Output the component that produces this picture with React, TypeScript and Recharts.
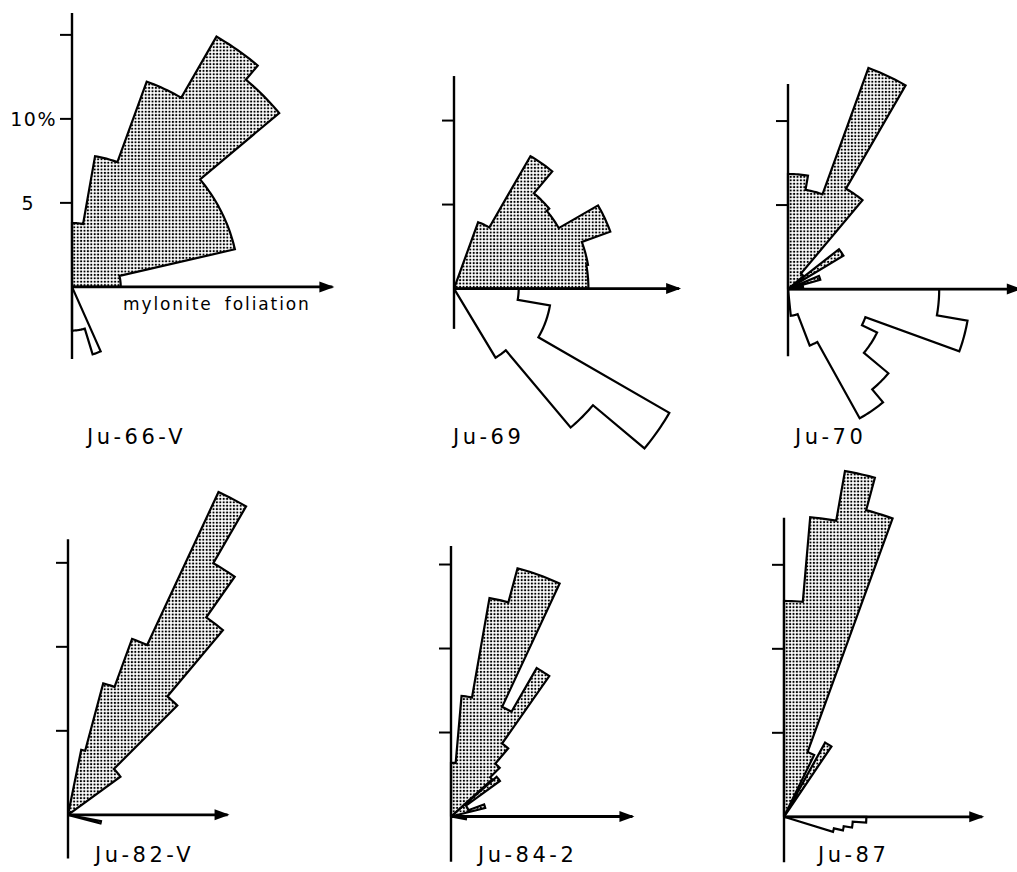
import { ScatterChart, Scatter, XAxis, YAxis } from "recharts"

type Bin = { from: number; to: number; pct: number }
type Pt = { x: number; y: number; tip?: boolean }

const K = 16.8 // px per 1 %
const FONT = "'DejaVu Sans', Verdana, sans-serif"

// rose bins: angle from the foliation (deg, counter-clockwise), frequency in %
const ju66vBins: Bin[] = [
  { from: 0, to: 13, pct: 2.9 },
  { from: 13, to: 40, pct: 9.95 },
  { from: 40, to: 50, pct: 16.1 },
  { from: 50, to: 60, pct: 17.2 },
  { from: 60, to: 70, pct: 13.0 },
  { from: 70, to: 80, pct: 7.9 },
  { from: 80, to: 90, pct: 3.8 },
  { from: -90, to: -73, pct: 2.6 },
  { from: -73, to: -66, pct: 4.2 },
]

const ju69Bins: Bin[] = [
  { from: 0, to: 10, pct: 8.0 },
  { from: 10, to: 20, pct: 8.1 },
  { from: 20, to: 30, pct: 9.9 },
  { from: 30, to: 40, pct: 7.2 },
  { from: 40, to: 50, pct: 7.4 },
  { from: 50, to: 60, pct: 9.1 },
  { from: 60, to: 70, pct: 4.2 },
  { from: -10, to: 0, pct: 3.85 },
  { from: -30, to: -10, pct: 5.8 },
  { from: -40, to: -30, pct: 14.8 },
  { from: -50, to: -40, pct: 10.8 },
  { from: -59, to: -50, pct: 4.8 },
]

const ju70Bins: Bin[] = [
  { from: 5, to: 14, pct: 0.9 },
  { from: 16, to: 23, pct: 2.0 },
  { from: 31, to: 38, pct: 3.85 },
  { from: 40, to: 50, pct: 1.2 },
  { from: 50, to: 60, pct: 6.9 },
  { from: 60, to: 70, pct: 14.0 },
  { from: 70, to: 80, pct: 6.0 },
  { from: 80, to: 90, pct: 6.85 },
  { from: -10, to: 0, pct: 9.0 },
  { from: -20, to: -10, pct: 10.85 },
  { from: -26, to: -20, pct: 4.9 },
  { from: -40, to: -26, pct: 5.9 },
  { from: -50, to: -40, pct: 7.8 },
  { from: -61, to: -50, pct: 8.8 },
  { from: -69, to: -61, pct: 3.6 },
  { from: -84, to: -69, pct: 1.6 },
]

const ju82vBins: Bin[] = [
  { from: 36, to: 45, pct: 3.86 },
  { from: 45, to: 50, pct: 9.2 },
  { from: 50, to: 55, pct: 14.35 },
  { from: 55, to: 60, pct: 17.3 },
  { from: 60, to: 65, pct: 21.2 },
  { from: 65, to: 70, pct: 11.15 },
  { from: 70, to: 75, pct: 8.1 },
  { from: 75, to: 78.5, pct: 3.95 },
  { from: -15, to: -11, pct: 2.0 },
]

const ju842Bins: Bin[] = [
  { from: 14, to: 20, pct: 2.1 },
  { from: 20, to: 36, pct: 1.1 },
  { from: 36, to: 41, pct: 3.6 },
  { from: 42, to: 45, pct: 3.3 },
  { from: 45, to: 50, pct: 4.1 },
  { from: 50, to: 55, pct: 5.3 },
  { from: 55, to: 60, pct: 10.2 },
  { from: 60, to: 65, pct: 7.2 },
  { from: 65, to: 75, pct: 15.3 },
  { from: 75, to: 80, pct: 13.2 },
  { from: 80, to: 85, pct: 7.2 },
  { from: 85, to: 90, pct: 3.2 },
  { from: -10, to: -4, pct: 0.9 },
]

const ju87Bins: Bin[] = [
  { from: 56, to: 61, pct: 5.05 },
  { from: 64, to: 70, pct: 4.1 },
  { from: 70, to: 75, pct: 18.9 },
  { from: 75, to: 80, pct: 20.9 },
  { from: 80, to: 85, pct: 17.9 },
  { from: 85, to: 90, pct: 12.85 },
  { from: -4, to: 0, pct: 4.9 },
  { from: -9, to: -4, pct: 4.1 },
  { from: -13, to: -9, pct: 3.6 },
  { from: -17, to: -13, pct: 3.05 },
]

const ticksTall = [5, 10, 15]
const ticksShort = [5, 10]

type Panel = {
  id: string
  name: string
  bins: Bin[]
  ticks: number[]
  ox: number
  oy: number
  yTop: number
  yBottom: number
  xTip: number
  labelX: number
  labelY: number
  showTickLabels?: boolean
}

const panels: Panel[] = [
  { id: "a", name: "Ju-66-V", bins: ju66vBins, ticks: ticksTall, ox: 72, oy: 287, yTop: 16.3, yBottom: -4.3, xTip: 15.5, labelX: 87, labelY: 427, showTickLabels: true },
  { id: "b", name: "Ju-69", bins: ju69Bins, ticks: ticksShort, ox: 454, oy: 289, yTop: 12.65, yBottom: -2.4, xTip: 13.4, labelX: 453, labelY: 427 },
  { id: "c", name: "Ju-70", bins: ju70Bins, ticks: ticksShort, ox: 788, oy: 289, yTop: 12.2, yBottom: -4.0, xTip: 13.8, labelX: 795, labelY: 427 },
  { id: "d", name: "Ju-82-V", bins: ju82vBins, ticks: ticksTall, ox: 68, oy: 815, yTop: 16.4, yBottom: -2.6, xTip: 9.5, labelX: 95, labelY: 845 },
  { id: "e", name: "Ju-84-2", bins: ju842Bins, ticks: ticksTall, ox: 450.5, oy: 816.5, yTop: 16.1, yBottom: -2.7, xTip: 10.8, labelX: 478, labelY: 845 },
  { id: "f", name: "Ju-87", bins: ju87Bins, ticks: ticksTall, ox: 784, oy: 817, yTop: 17.8, yBottom: -2.7, xTip: 11.8, labelX: 818, labelY: 845 },
]

// split bins into runs of touching sectors on the same side of the foliation
function toGroups(bins: Bin[]) {
  const sorted = [...bins].sort((a, b) => a.from - b.from)
  const groups: Bin[][] = []
  for (const b of sorted) {
    const last = groups[groups.length - 1]
    const prev = last ? last[last.length - 1] : null
    if (prev && prev.to === b.from && (prev.from >= 0) === (b.from >= 0)) last.push(b)
    else groups.push([b])
  }
  return groups
}

function outline(group: Bin[]): Pt[] {
  const pts: Pt[] = [{ x: 0, y: 0 }]
  for (const b of group) {
    const steps = Math.max(2, Math.ceil(b.to - b.from))
    for (let i = 0; i <= steps; i++) {
      const a = ((b.from + ((b.to - b.from) * i) / steps) * Math.PI) / 180
      pts.push({ x: b.pct * Math.cos(a), y: b.pct * Math.sin(a) })
    }
  }
  pts.push({ x: 0, y: 0 })
  return pts
}

const noShape = () => <g />

function ArrowHead(props: any) {
  if (!props.payload || !props.payload.tip) return <g />
  const { cx, cy } = props
  return <polygon points={`${cx + 2},${cy} ${cx - 13},${cy - 5.5} ${cx - 13},${cy + 5.5}`} fill="#000" />
}

function tickText(v: number) {
  if (v === 10) return "10%"
  if (v === 5) return "5"
  return ""
}

function makeTick(show: boolean) {
  return function Tick(props: any) {
    if (!show) return <g />
    const { x, y, payload } = props
    const v = payload.value
    return (
      <text x={x} y={y} dy={7} dx={v === 5 ? -22 : 0} textAnchor="end" fontSize={19} fontFamily={FONT} fill="#000" letterSpacing={1.5}>
        {tickText(v)}
      </text>
    )
  }
}

function RosePanel({ p }: { p: Panel }) {
  const shapes = toGroups(p.bins).map((g) => ({ pts: outline(g), upper: g[0].from >= 0 }))
  const all = shapes.flatMap((s) => s.pts)
  const xMax = Math.max(p.xTip, ...all.map((q) => q.x)) + 0.5
  const yMax = Math.max(p.yTop, ...all.map((q) => q.y)) + 0.3
  const yMin = Math.min(p.yBottom, ...all.map((q) => q.y)) - 0.3
  const axisW = p.showTickLabels ? 64 : 16
  const width = axisW + xMax * K
  const height = (yMax - yMin) * K
  const Tick = makeTick(!!p.showTickLabels)
  const fillId = `dots-${p.id}`

  return (
    <div style={{ position: "absolute", left: p.ox - axisW, top: p.oy - yMax * K }}>
      <ScatterChart width={width} height={height} margin={{ top: 0, right: 0, bottom: 0, left: 0 }}>
        <defs>
          <pattern id={fillId} width={3.4} height={3.4} patternUnits="userSpaceOnUse">
            <rect width={3.4} height={3.4} fill="#fff" />
            <circle cx={1.7} cy={1.7} r={1.1} fill="#000" />
          </pattern>
        </defs>
        <XAxis type="number" dataKey="x" domain={[0, xMax]} hide />
        <YAxis
          type="number"
          dataKey="y"
          domain={[yMin, yMax]}
          width={axisW}
          ticks={p.ticks}
          interval={0}
          axisLine={false}
          tickLine={{ stroke: "#000", strokeWidth: 2 }}
          tickSize={12}
          tickMargin={3}
          tick={<Tick />}
        />
        {shapes.map((s, i) => (
          <Scatter
            key={i}
            data={s.pts}
            line={{ stroke: "#000", strokeWidth: 2.2, strokeLinejoin: "miter", fill: s.upper ? `url(#${fillId})` : "#fff" }}
            lineType="joint"
            shape={noShape}
            isAnimationActive={false}
          />
        ))}
        <Scatter
          data={[{ x: 0, y: p.yBottom }, { x: 0, y: p.yTop }]}
          line={{ stroke: "#000", strokeWidth: 2.4 }}
          lineType="joint"
          shape={noShape}
          isAnimationActive={false}
        />
        <Scatter
          data={[{ x: 0, y: 0 }, { x: p.xTip, y: 0, tip: true }]}
          line={{ stroke: "#000", strokeWidth: 2.8 }}
          lineType="joint"
          shape={ArrowHead}
          isAnimationActive={false}
        />
      </ScatterChart>
    </div>
  )
}

const labelStyle = {
  position: "absolute" as const,
  fontFamily: FONT,
  fontSize: 21,
  lineHeight: "21px",
  letterSpacing: 3.5,
  color: "#000",
  whiteSpace: "nowrap" as const,
}

export default function App() {
  return (
    <div style={{ position: "absolute", left: 0, top: 0, width: 1017, height: 872, overflow: "hidden", background: "#fff" }}>
      {panels.map((p) => (
        <RosePanel key={p.id} p={p} />
      ))}
      {panels.map((p) => (
        <div key={p.id + "-label"} style={{ ...labelStyle, left: p.labelX, top: p.labelY }}>
          {p.name}
        </div>
      ))}
      <div style={{ ...labelStyle, left: 123, top: 296, fontSize: 17, lineHeight: "17px", letterSpacing: 1.9, wordSpacing: 5 }}>
        mylonite foliation
      </div>
    </div>
  )
}
